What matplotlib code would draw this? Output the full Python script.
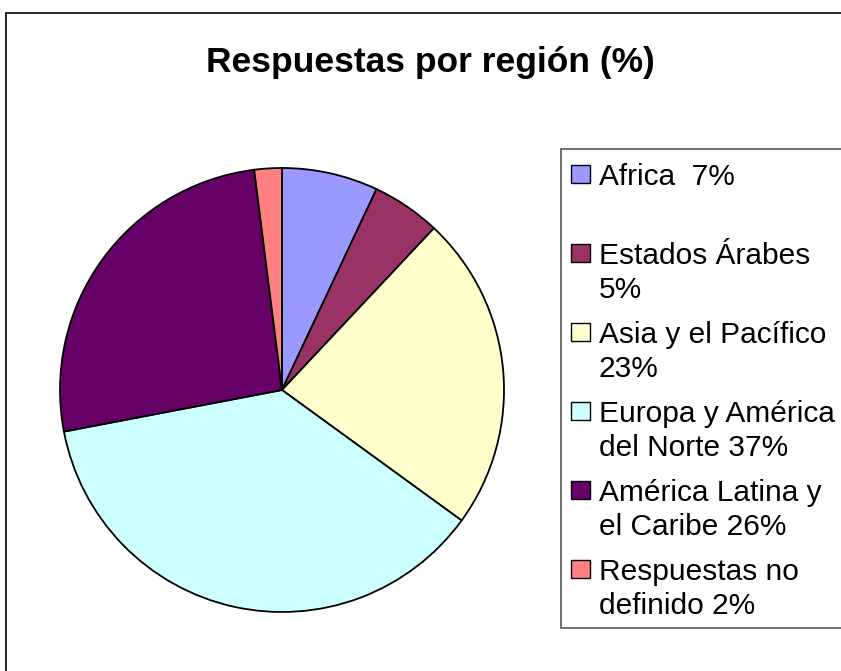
import matplotlib
matplotlib.use('Agg')
import matplotlib.pyplot as plt
from matplotlib.patches import Rectangle

plt.rcParams['font.family'] = ['Liberation Sans', 'DejaVu Sans']

# datos
regiones = ["Africa  7%", "Estados Árabes\n5%", "Asia y el Pacífico\n23%",
            "Europa y América\ndel Norte 37%", "América Latina y\nel Caribe 26%",
            "Respuestas no\ndefinido 2%"]
valores = [7, 5, 23, 37, 26, 2]
colores = ["#9999FF", "#993366", "#FFFFCC", "#CCFFFF", "#660066", "#FF8080"]
titulo = "Respuestas por región (%)"

W, H = 841, 671
fig = plt.figure(figsize=(W / 100, H / 100), dpi=100)
fig.patch.set_facecolor('white')


def fx(px):
    return px / W


def fy(py):
    return 1 - py / H


# marco exterior (cortado a la derecha y abajo)
fig.patches.append(Rectangle((fx(6), fy(700)), fx(900), fy(13) - fy(700),
                             transform=fig.transFigure, fill=False,
                             edgecolor='black', linewidth=1.2))

fig.text(fx(430), fy(72), titulo, ha='center', va='baseline',
         fontsize=25.5, fontweight='bold')

# tarta
cx, cy, r = 282, 390, 222
ax = fig.add_axes([fx(cx - r), fy(cy + r), fx(2 * r), fy(cy - r) - fy(cy + r)])
ax.pie(valores, colors=colores, startangle=90, counterclock=False,
       wedgeprops=dict(edgecolor='black', linewidth=1.3))
ax.set_xlim(-1, 1)
ax.set_ylim(-1, 1)
ax.set_aspect('auto')
ax.axis('off')

# leyenda dibujada a mano (cortada por la derecha como en el original)
fig.patches.append(Rectangle((fx(561), fy(628)), fx(400), fy(149) - fy(628),
                             transform=fig.transFigure, facecolor='white',
                             edgecolor='#555555', linewidth=1.2, zorder=0))
y0 = 185
for i, (lab, col) in enumerate(zip(regiones, colores)):
    base = y0 + i * 79
    fig.patches.append(Rectangle((fx(571), fy(base - 2)), fx(19), fy(base - 20) - fy(base - 2),
                                 transform=fig.transFigure, facecolor=col,
                                 edgecolor='black', linewidth=1))
    for j, linea in enumerate(lab.split("\n")):
        fig.text(fx(599), fy(base + j * 34), linea, ha='left', va='baseline',
                 fontsize=21.5, color='black')

fig.savefig('out.png', dpi=100, facecolor='white')
